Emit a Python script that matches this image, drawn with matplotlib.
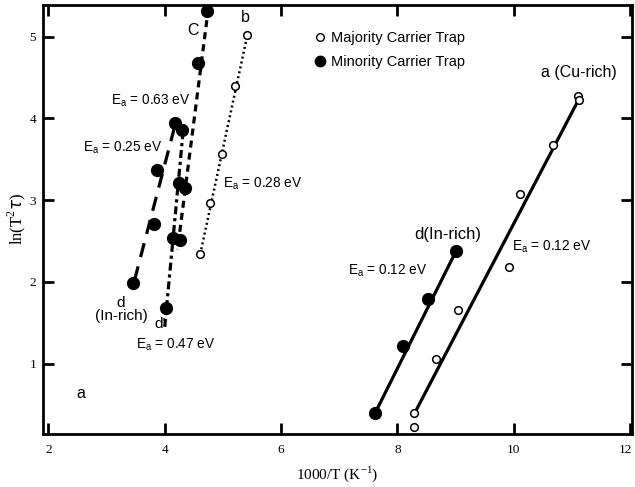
import matplotlib
matplotlib.use("Agg")
import matplotlib.pyplot as plt
import matplotlib.transforms as mtransforms
from matplotlib.lines import Line2D

# minority carrier trap (filled) points
min_c_x = [4.73, 4.58]
min_c_y = [5.32, 4.68]
min_mid_x = [4.30, 4.25, 4.35, 4.15, 4.27]
min_mid_y = [3.86, 3.21, 3.15, 2.54, 2.51]
min_025_x = [4.17, 3.87, 3.82, 3.46]
min_025_y = [3.95, 3.37, 2.71, 1.99]
min_dp_x = [4.03]
min_dp_y = [1.68]
min_d_x = [9.01, 8.53, 8.10, 7.62]
min_d_y = [2.38, 1.79, 1.21, 0.40]

# majority carrier trap (open) points
maj_b_x = [5.42, 5.21, 4.99, 4.78, 4.61]
maj_b_y = [5.02, 4.40, 3.56, 2.97, 2.34]
maj_a_x = [11.11, 11.12, 10.68, 10.11, 9.92, 9.04, 8.67, 8.29, 8.29]
maj_a_y = [4.27, 4.23, 3.68, 3.07, 2.18, 1.66, 1.06, 0.40, 0.23]

# fit lines (end points)
fit_c_x, fit_c_y = [4.75, 4.22], [5.35, 2.40]
fit_dp_x, fit_dp_y = [4.00, 4.33], [1.45, 3.95]
fit_025_x, fit_025_y = [3.48, 4.20], [2.02, 3.98]
fit_b_x, fit_b_y = [4.61, 5.42], [2.34, 5.02]
fit_a_x, fit_a_y = [8.30, 11.13], [0.40, 4.25]
fit_d_x, fit_d_y = [7.62, 9.01], [0.40, 2.38]

sans = ['Liberation Sans', 'DejaVu Sans']
serif = ['Liberation Serif', 'DejaVu Serif']

fig = plt.figure(figsize=(6.35, 4.87), dpi=100)
ax = fig.add_axes([0.068, 0.109, 0.927, 0.881])

lw = 2.3
ax.plot(fit_c_x, fit_c_y, color='k', lw=lw, dashes=(2.2, 1.6))
ax.plot(fit_dp_x, fit_dp_y, color='k', lw=lw, dashes=(2.5, 1.2, 1, 1.2))
ax.plot(fit_025_x, fit_025_y, color='k', lw=lw, dashes=(4.5, 3))
ax.plot(fit_b_x, fit_b_y, color='k', lw=1.8, dashes=(0.8, 1.2))
ax.plot(fit_a_x, fit_a_y, color='k', lw=lw, solid_capstyle='butt')
ax.plot(fit_d_x, fit_d_y, color='k', lw=lw, solid_capstyle='butt')

filled = dict(ls='none', marker='o', ms=8.5, mfc='k', mec='k')
opened = dict(ls='none', marker='o', ms=5.5, mfc='white', mec='k', mew=1.1)
for xs, ys in [(min_c_x, min_c_y), (min_mid_x, min_mid_y), (min_025_x, min_025_y),
               (min_dp_x, min_dp_y), (min_d_x, min_d_y)]:
    ax.plot(xs, ys, **filled)
for xs, ys in [(maj_b_x, maj_b_y), (maj_a_x, maj_a_y)]:
    ax.plot(xs, ys, **opened)


def lab(x, y, s, size=9.8, **kw):
    ax.text(x, y, s, family=sans, fontsize=size, **kw)


lab(4.49, 5.08, 'C', 11.5, ha='center', va='center')
lab(5.38, 5.23, 'b', 11.5, ha='center', va='center')
lab(3.07, 4.22, r'E$_\mathregular{a}$ = 0.63 eV', ha='left', va='center')
lab(2.60, 3.64, r'E$_\mathregular{a}$ = 0.25 eV', ha='left', va='center')
lab(5.01, 3.20, r'E$_\mathregular{a}$ = 0.28 eV', ha='left', va='center')
lab(3.25, 1.66, 'd\n(In-rich)', 11, ha='center', va='center', linespacing=0.9)
lab(3.92, 1.48, "d'", 11, ha='center', va='center')
lab(3.51, 1.23, r'E$_\mathregular{a}$ = 0.47 eV', ha='left', va='center')
lab(2.55, 0.63, 'a', 11.5, ha='center', va='center')
lab(11.12, 4.56, 'a (Cu-rich)', 11.5, ha='center', va='center')
lab(8.87, 2.58, 'd(In-rich)', 12, ha='center', va='center')
lab(9.97, 2.43, r'E$_\mathregular{a}$ = 0.12 eV', ha='left', va='center')
lab(7.15, 2.14, r'E$_\mathregular{a}$ = 0.12 eV', ha='left', va='center')

handles = [Line2D([], [], ls='none', marker='o', ms=5.5, mfc='white', mec='k', mew=1),
           Line2D([], [], ls='none', marker='o', ms=7.5, mfc='k', mec='k')]
leg = ax.legend(handles, ['Majority Carrier Trap', 'Minority Carrier Trap'],
                loc='upper left', bbox_to_anchor=(0.435, 0.97), frameon=False,
                prop={'family': sans, 'size': 10.5}, handletextpad=0.3,
                handlelength=1.0, labelspacing=0.72)

ax.set_xlim(1.91, 12.03)
ax.set_ylim(0.14, 5.39)
ax.set_xticks([2, 4, 6, 8, 10, 12])
ax.set_yticks([1, 2, 3, 4, 5])
ax.tick_params(direction='in', length=8, width=2, top=True, right=True,
               labelsize=9.5)
ax.tick_params(axis='x', pad=7)
ax.tick_params(axis='y', pad=5)
for t in ax.get_xticklabels() + ax.get_yticklabels():
    t.set_family(serif)
# keep the last x tick label inside the figure
last = ax.get_xticklabels()[-1]
last.set_transform(last.get_transform() +
                   mtransforms.ScaledTranslation(-3 / 72, 0, fig.dpi_scale_trans))
for sp in ax.spines.values():
    sp.set_linewidth(2)

ax.set_xlabel(r'1000/T (K$^\mathregular{-1}$)', family=serif, fontsize=11, labelpad=6)
ax.set_ylabel(r'ln(T$^\mathregular{2}\tau$)', family=serif, fontsize=12, labelpad=1)

fig.savefig('out.png', dpi=100)
